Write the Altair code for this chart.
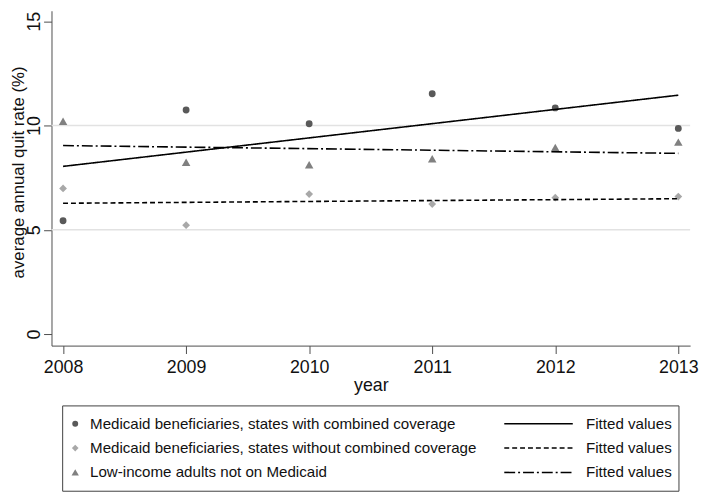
import altair as alt
import pandas as pd

# ---------------- data ----------------
years = [2008, 2009, 2010, 2011, 2012, 2013]
series_names = [
    "Medicaid beneficiaries, states with combined coverage",
    "Medicaid beneficiaries, states without combined coverage",
    "Low-income adults not on Medicaid",
]
combined = [5.43, 10.74, 10.08, 11.52, 10.84, 9.86]
without_combined = [6.98, 5.22, 6.71, 6.23, 6.54, 6.59]
low_income = [10.2, 8.24, 8.12, 8.40, 8.94, 9.20]
y_ticks = [0, 5, 10, 15]
grid_values = [5, 10]
fit_label = "Fitted values"
legend_rows = [0, 1, 2]

# ---------------- styling ----------------
FONT = "Liberation Sans"
TXT = "#111111"
AX = "#4d4d4d"
marker_colors = ["#595959", "#a8a8a8", "#808080"]
marker_shapes = ["circle", "diamond", "triangle-up"]
marker_sizes = [48, 75, 80]
legend_marker_sizes = [36, 55, 60]
dash_styles = [[1, 0], [5, 3], [11, 3, 2, 3]]

rows = []
for name, vals in zip(series_names, [combined, without_combined, low_income]):
    for yr, v in zip(years, vals):
        rows.append({"year": yr, "rate": v, "series": name})
df = pd.DataFrame(rows)

x_scale = alt.Scale(domain=[2007.906, 2013.096], nice=False, zero=False)
y_scale = alt.Scale(domain=[-0.554, 15.498], nice=False, zero=False)

shape_enc = alt.Shape("series:N", scale=alt.Scale(domain=series_names, range=marker_shapes), legend=None)
color_enc = alt.Color("series:N", scale=alt.Scale(domain=series_names, range=marker_colors), legend=None)
size_enc = alt.Size("series:N", scale=alt.Scale(domain=series_names, range=marker_sizes), legend=None)
dash_enc = alt.StrokeDash("series:N", scale=alt.Scale(domain=series_names, range=dash_styles), legend=None)

x_axis = alt.Axis(values=years, format="d", title="year", grid=False,
                  tickSize=8, labelPadding=5, titlePadding=0,
                  labelFontSize=18, titleFontSize=18, labelFont=FONT, titleFont=FONT,
                  titleFontWeight="normal", labelColor=TXT, titleColor=TXT,
                  domainColor=AX, tickColor=AX, labelFlush=False)
y_axis = alt.Axis(values=y_ticks, title="average annual quit rate (%)", grid=False,
                  tickSize=8, labelPadding=4,
                  labelAngle=270, labelAlign="center", labelBaseline="alphabetic",
                  labelFontSize=18, titleFontSize=17, labelFont=FONT, titleFont=FONT,
                  titleAngle=270, titleAlign="center", titleBaseline="alphabetic",
                  titleX=-28, titleY=163,
                  titleFontWeight="normal", labelColor=TXT, titleColor=TXT,
                  domainColor=AX, tickColor=AX, labelFlush=False)

X = alt.X("year:Q", scale=x_scale, axis=x_axis, title="year")
Y = alt.Y("rate:Q", scale=y_scale, axis=y_axis, title="average annual quit rate (%)")

grid = alt.Chart(pd.DataFrame({"rate": grid_values})).mark_rule(
    color="#e2e2e2", strokeWidth=1.5
).encode(y=Y)

fits = alt.Chart(df).transform_regression(
    "year", "rate", groupby=["series"]
).mark_line(color="black", strokeWidth=1.6).encode(
    x=X, y=Y, strokeDash=dash_enc, detail="series:N",
)

points = alt.Chart(df).mark_point(filled=True, opacity=1).encode(
    x=X, y=Y, shape=shape_enc, color=color_enc, size=size_enc,
)

main = alt.layer(grid, points, fits)

# ---------------- legend (drawn below the plot, own row scale) ----------------
leg_df = pd.DataFrame({"series": series_names, "row": legend_rows, "fit": [fit_label] * 3})
leg_y = alt.Y("row:Q", scale=alt.Scale(domain=[0, 2], range=[417.7, 467], nice=False, zero=False), axis=None)
leg_base = alt.Chart(leg_df)
leg_size_enc = alt.Size("series:N", scale=alt.Scale(domain=series_names, range=legend_marker_sizes), legend=None)

leg_frame = leg_base.transform_filter("datum.row == 0").mark_rect(
    fill="transparent", stroke="#404040", strokeWidth=1
).encode(x=alt.value(11.3), x2=alt.value(634.7), y=alt.value(399.7), y2=alt.value(486))
leg_pts = leg_base.mark_point(filled=True, opacity=1).encode(
    x=alt.value(24), y=leg_y, shape=shape_enc, color=color_enc, size=leg_size_enc)
leg_txt = leg_base.mark_text(align="left", baseline="middle", fontSize=15.3, font=FONT, color=TXT).encode(
    x=alt.value(39), y=leg_y, text="series:N")
leg_lines = leg_base.mark_rule(color="black", strokeWidth=1.6).encode(
    x=alt.value(458), x2=alt.value(527.3), y=leg_y, strokeDash=dash_enc)
leg_fit = leg_base.mark_text(align="left", baseline="middle", fontSize=15.3, font=FONT, color=TXT).encode(
    x=alt.value(540.7), y=leg_y, text="fit:N")

legend = alt.layer(leg_frame, leg_pts, leg_txt, leg_lines, leg_fit)

chart = alt.layer(main, legend).resolve_scale(
    y="independent", size="independent"
).properties(
    width=646, height=338.7,
    view=alt.ViewBackground(stroke="transparent"),
    padding={"left": 44, "top": 0, "right": 11, "bottom": 148},
    autosize=alt.AutoSizeParams(type="none"),
)

chart.save("out.html", embed_options={"renderer": "svg", "actions": False})
